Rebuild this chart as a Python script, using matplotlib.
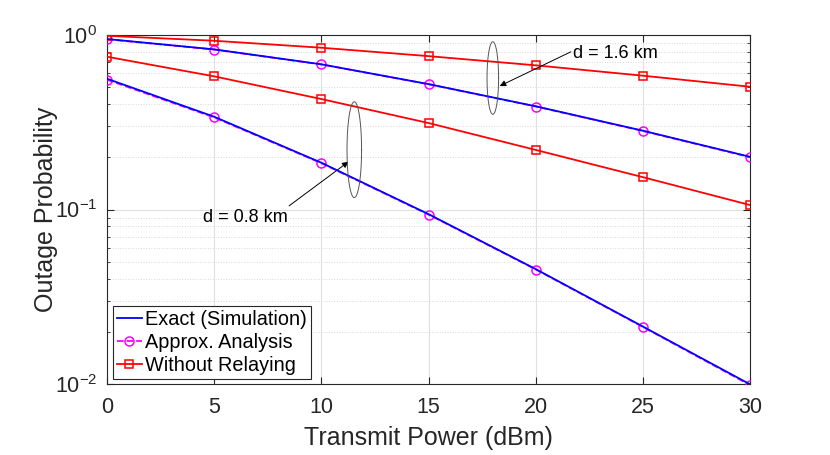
import matplotlib
matplotlib.use("Agg")
import matplotlib.pyplot as plt
import numpy as np
from matplotlib.ticker import LogLocator, NullFormatter

plt.rcParams['font.family'] = ['Liberation Sans', 'DejaVu Sans']
plt.rcParams['mathtext.fontset'] = 'custom'
plt.rcParams['mathtext.rm'] = 'Liberation Sans'

# transmit power (dBm)
power = [0, 5, 10, 15, 20, 25, 30]

# d = 0.8 km
exact_08 = [0.559, 0.339, 0.185, 0.094, 0.0456, 0.0214, 0.0100]
approx_08 = [0.552, 0.336, 0.184, 0.0935, 0.0454, 0.0213, 0.0099]
norelay_08 = [0.747, 0.577, 0.428, 0.312, 0.219, 0.153, 0.106]

# d = 1.6 km
exact_16 = [0.943, 0.823, 0.676, 0.521, 0.389, 0.282, 0.200]
approx_16 = [0.940, 0.821, 0.675, 0.520, 0.388, 0.281, 0.199]
norelay_16 = [0.984, 0.922, 0.841, 0.753, 0.667, 0.582, 0.503]

fig = plt.figure(figsize=(8.3, 4.55), dpi=100)
ax = fig.add_axes([0.129, 0.155, 0.775, 0.769])

ax.plot(power, exact_08, '-', color='#0000ff', lw=1.3, label='Exact (Simulation)', zorder=4)
ax.plot(power, approx_08, '--o', color='#ff00ff', lw=1.3, ms=6.5, mfc='none', mew=1.1,
        label='Approx. Analysis', zorder=3)
ax.plot(power, norelay_08, '-s', color='#ff0000', lw=1.3, ms=6, mfc='none', mew=1.1,
        label='Without Relaying', zorder=3)

ax.plot(power, exact_16, '-', color='#0000ff', lw=1.3, zorder=4)
ax.plot(power, approx_16, '--o', color='#ff00ff', lw=1.3, ms=6.5, mfc='none', mew=1.1, zorder=3)
ax.plot(power, norelay_16, '-s', color='#ff0000', lw=1.3, ms=6, mfc='none', mew=1.1, zorder=3)

ax.set_yscale('log')
ax.set_xlim(0, 30)
ax.set_ylim(1e-2, 1)
ax.set_xticks(power)
ax.yaxis.set_major_locator(LogLocator(base=10, numticks=5))
ax.yaxis.set_minor_locator(LogLocator(base=10, subs=np.arange(2, 10), numticks=20))
ax.yaxis.set_minor_formatter(NullFormatter())

ax.grid(True, which='major', color='#e0e0e0', lw=0.8, ls='-')
ax.grid(True, which='minor', axis='y', color='#d8d8d8', lw=0.7, ls=':')
ax.set_axisbelow(True)

for sp in ax.spines.values():
    sp.set_color('#262626')
    sp.set_linewidth(0.8)
ax.tick_params(which='both', direction='in', top=True, right=True, colors='#262626',
               labelsize=15.5, labelcolor='#262626')
ax.tick_params(axis='x', which='major', pad=9)
ax.tick_params(axis='y', which='major', pad=7)
ax.tick_params(which='major', length=5)
ax.tick_params(which='minor', length=2.5)

ax.set_xlabel('Transmit Power (dBm)', fontsize=18, color='#262626', labelpad=6)
ax.set_ylabel('Outage Probability', fontsize=18, color='#262626', labelpad=-2)

# ellipses around curve groups (drawn in log space)
t = np.linspace(0, 2 * np.pi, 200)
def ellipse(xc, ytop, ybot, halfw):
    lc = (np.log10(ytop) + np.log10(ybot)) / 2
    lh = (np.log10(ytop) - np.log10(ybot)) / 2
    ax.plot(xc + halfw * np.cos(t), 10 ** (lc + lh * np.sin(t)), color='#555555', lw=0.7, zorder=5)

ellipse(11.53, 0.413, 0.117, 0.34)
ellipse(17.99, 0.91, 0.35, 0.27)

arrow = dict(arrowstyle='-|>', color='black', lw=0.7, shrinkA=0, shrinkB=0, mutation_scale=9)
ax.annotate('', xy=(11.26, 0.1876), xytext=(8.49, 0.105), arrowprops=arrow)
ax.annotate('', xy=(18.31, 0.508), xytext=(21.63, 0.797), arrowprops=arrow)
ax.text(6.44, 0.0906, 'd = 0.8 km', fontsize=13, ha='center', va='center')
ax.text(23.7, 0.78, 'd = 1.6 km', fontsize=13, ha='center', va='center')

leg = ax.legend(loc='lower left', fontsize=14.3, handlelength=1.25, handletextpad=0.15,
                borderpad=0.2, labelspacing=0.2, fancybox=False, framealpha=1,
                borderaxespad=0.3)
leg.get_frame().set_edgecolor('#262626')
leg.get_frame().set_linewidth(0.8)

fig.savefig('out.png', dpi=100)
